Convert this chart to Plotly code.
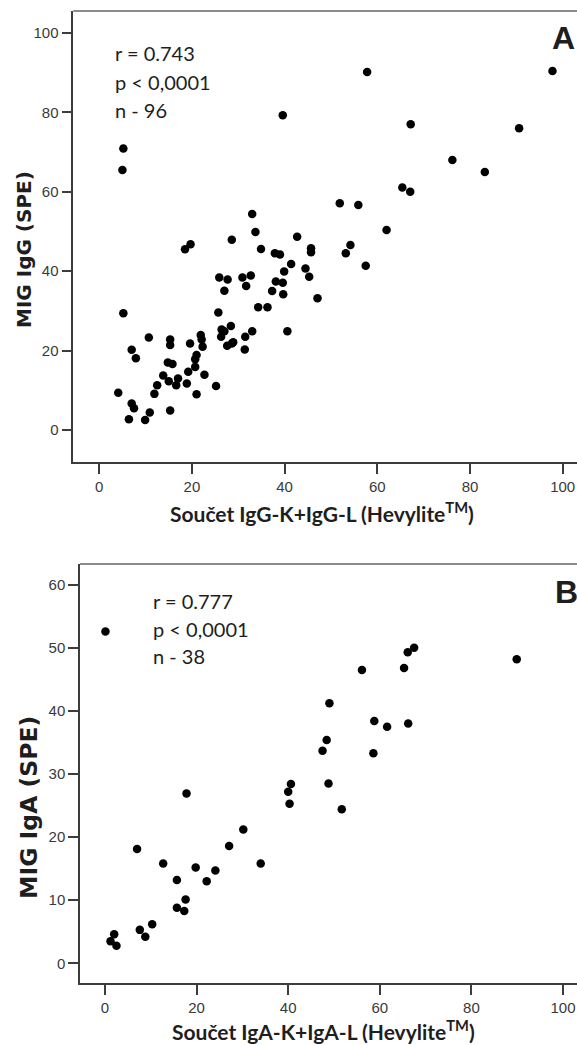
import plotly.graph_objects as go

W, H = 577, 1045

# Panel A: IgG, sum of heavy/light chain pairs vs. M-protein by SPE
igg_hlc = [51.9, 55.9, 33.0, 33.7, 42.7, 28.6, 19.7, 18.5, 34.9, 37.9, 39.0, 45.7, 45.7, 54.2, 53.2,
           41.4, 39.9, 44.5, 45.3, 25.9, 27.7, 30.9, 32.7, 31.7, 27.0, 38.1, 39.6, 37.3, 39.7, 47.1,
           34.3, 36.3, 25.7, 5.2, 28.4, 26.4, 27.0, 26.3, 33.0, 31.5, 40.6, 27.6, 28.6, 28.9, 31.4,
           10.7, 15.3, 15.3, 19.6, 21.9, 22.1, 22.3, 7.0, 7.9, 21.0, 20.7, 20.7, 14.8, 15.8, 19.2,
           22.7, 13.8, 15.0, 17.0, 16.6, 18.9, 12.5, 11.9, 25.2, 21.0, 4.1, 7.0, 7.5, 10.9, 15.3,
           6.4, 9.9, 57.8, 97.8, 39.6, 67.2, 90.6, 76.2, 83.2, 65.4, 67.1, 62.0, 57.5, 5.2, 5.0]
igg_spe = [57.1, 56.7, 54.4, 49.9, 48.7, 47.9, 46.8, 45.5, 45.6, 44.5, 44.2, 45.8, 44.8, 46.6, 44.5,
           41.8, 39.9, 40.7, 38.6, 38.4, 37.9, 38.4, 38.9, 36.3, 35.1, 37.4, 37.1, 35.0, 34.2, 33.2,
           30.9, 30.9, 29.6, 29.4, 26.2, 25.3, 24.9, 23.5, 24.9, 23.5, 24.9, 21.2, 21.8, 22.1, 20.3,
           23.3, 22.8, 21.4, 21.8, 23.9, 22.8, 21.0, 20.2, 18.1, 18.9, 17.8, 15.9, 17.0, 16.6, 14.7,
           13.9, 13.7, 12.3, 13.0, 11.3, 11.7, 11.3, 9.1, 11.1, 9.0, 9.4, 6.7, 5.5, 4.4, 4.9,
           2.7, 2.5, 90.2, 90.4, 79.3, 77.0, 76.0, 68.0, 65.0, 61.1, 60.0, 50.4, 41.4, 70.9, 65.5]

# Panel B: IgA
iga_hlc = [0.1, 67.5, 66.1, 65.3, 56.1, 89.9, 49.0, 58.8, 61.6, 66.2, 48.4, 47.5, 58.6, 40.6, 40.0,
           48.8, 40.3, 51.7, 17.8, 30.2, 27.1, 7.0, 12.7, 34.0, 19.8, 24.1, 22.2, 15.7, 17.6, 15.7,
           17.3, 10.3, 7.6, 8.8, 2.0, 1.2, 2.5]
iga_spe = [52.6, 50.0, 49.3, 46.8, 46.5, 48.2, 41.2, 38.4, 37.5, 38.0, 35.4, 33.7, 33.3, 28.4, 27.2,
           28.5, 25.3, 24.4, 26.9, 21.2, 18.6, 18.1, 15.8, 15.8, 15.2, 14.7, 13.0, 13.2, 10.1, 8.8,
           8.3, 6.2, 5.3, 4.2, 4.6, 3.5, 2.8]

x_ticks = [0, 20, 40, 60, 80, 100]
yA_ticks = [0, 20, 40, 60, 80, 100]
yB_ticks = [0, 10, 20, 30, 40, 50, 60]

stats_A = ["r = 0.743", "p < 0,0001", "n - 96"]
stats_B = ["r = 0.777", "p < 0,0001", "n - 38"]


def px(x):
    return x / W


def py(y):
    return 1 - y / H


LABEL_FONT = "Lato, 'Open Sans', sans-serif"
YTITLE_FONT = "'DejaVu Sans', sans-serif"
TICK_FONT = dict(family="'Liberation Sans Narrow', 'Liberation Sans', Arial, sans-serif", size=15, color="#3a3a3a")
AX_COLOR = "#3c3c3c"

fig = go.Figure()
marker = dict(color="black", size=8.5, line=dict(width=0))
fig.add_trace(go.Scatter(x=igg_hlc, y=igg_spe, mode="markers", marker=marker,
                         xaxis="x", yaxis="y", showlegend=False, hoverinfo="x+y"))
fig.add_trace(go.Scatter(x=iga_hlc, y=iga_spe, mode="markers", marker=marker,
                         xaxis="x2", yaxis="y2", showlegend=False, hoverinfo="x+y"))

axis_common = dict(showgrid=False, zeroline=False, showline=True, linecolor=AX_COLOR, linewidth=1.5,
                   ticks="outside", ticklen=10, tickwidth=1.5, tickcolor=AX_COLOR,
                   tickfont=TICK_FONT, fixedrange=True)

# panel geometry in pixels
A_left, A_top, A_bottom = 73.3, 11, 462
B_left, B_top, B_bottom = 80, 564, 983

fig.update_layout(
    width=W, height=H,
    margin=dict(l=0, r=0, t=0, b=0),
    paper_bgcolor="white", plot_bgcolor="white",
    xaxis=dict(domain=[px(A_left), 1], range=[-5.6, 103.09], tickvals=x_ticks,
               anchor="y", **axis_common),
    yaxis=dict(domain=[py(A_bottom), py(A_top)], range=[-8.06, 105.54], tickvals=yA_ticks,
               anchor="x", **axis_common),
    xaxis2=dict(domain=[px(B_left), 1], range=[-5.46, 103.06], tickvals=x_ticks,
                anchor="y2", **axis_common),
    yaxis2=dict(domain=[py(B_bottom), py(B_top)], range=[-3.12, 63.28], tickvals=yB_ticks,
                anchor="x2", **axis_common),
)

# top border of each panel
for left, top in [(A_left, A_top), (B_left, B_top)]:
    fig.add_shape(type="line", xref="paper", yref="paper", x0=px(left), x1=1, y0=py(top), y1=py(top),
                  line=dict(color="#8c8c8c", width=2))

ann = []
# statistics blocks
for lines, x0, ys in [(stats_A, 113, [53, 82, 110]), (stats_B, 150.7, [600.7, 629, 656])]:
    for t, yy in zip(lines, ys):
        ann.append(dict(text=t, x=px(x0), y=py(yy), xref="paper", yref="paper", xanchor="left",
                        yanchor="middle", showarrow=False,
                        font=dict(family=LABEL_FONT, size=20, color="#1e1e1e")))

# panel letters
ann.append(dict(text="<b>A</b>", x=px(550), y=py(38), xref="paper", yref="paper", xanchor="left",
                yanchor="middle", showarrow=False,
                font=dict(family="'Liberation Sans', Arial, sans-serif", size=32, color="#1e1e1e")))
ann.append(dict(text="<b>B</b>", x=px(553), y=py(592), xref="paper", yref="paper", xanchor="left",
                yanchor="middle", showarrow=False,
                font=dict(family="'Liberation Sans', Arial, sans-serif", size=32, color="#1e1e1e")))

# axis titles
title_font = dict(family=LABEL_FONT, size=21, color="#1e1e1e")
ann.append(dict(text="<b>Součet IgG-K+IgG-L (Hevylite<sup>TM</sup>)</b>", x=px(322), y=py(512),
                xref="paper", yref="paper", xanchor="center", yanchor="middle", showarrow=False,
                font=title_font))
ann.append(dict(text="<b>Součet IgA-K+IgA-L (Hevylite<sup>TM</sup>)</b>", x=px(323), y=0,
                xref="paper", yref="paper", xanchor="center", yanchor="bottom", showarrow=False,
                borderpad=0, font=title_font))
ann.append(dict(text="<b>MIG IgG (SPE)</b>", x=px(24), y=py(250), xref="paper", yref="paper",
                xanchor="center", yanchor="middle", textangle=-90, showarrow=False,
                font=dict(family=YTITLE_FONT, size=20, color="#1e1e1e")))
ann.append(dict(text="<b>MIG IgA (SPE)</b>", x=px(29), y=py(808), xref="paper", yref="paper",
                xanchor="center", yanchor="middle", textangle=-90, showarrow=False,
                font=dict(family=YTITLE_FONT, size=23.5, color="#1e1e1e")))

fig.update_layout(annotations=ann)

fig.write_html("out.html", config={"displayModeBar": False})
